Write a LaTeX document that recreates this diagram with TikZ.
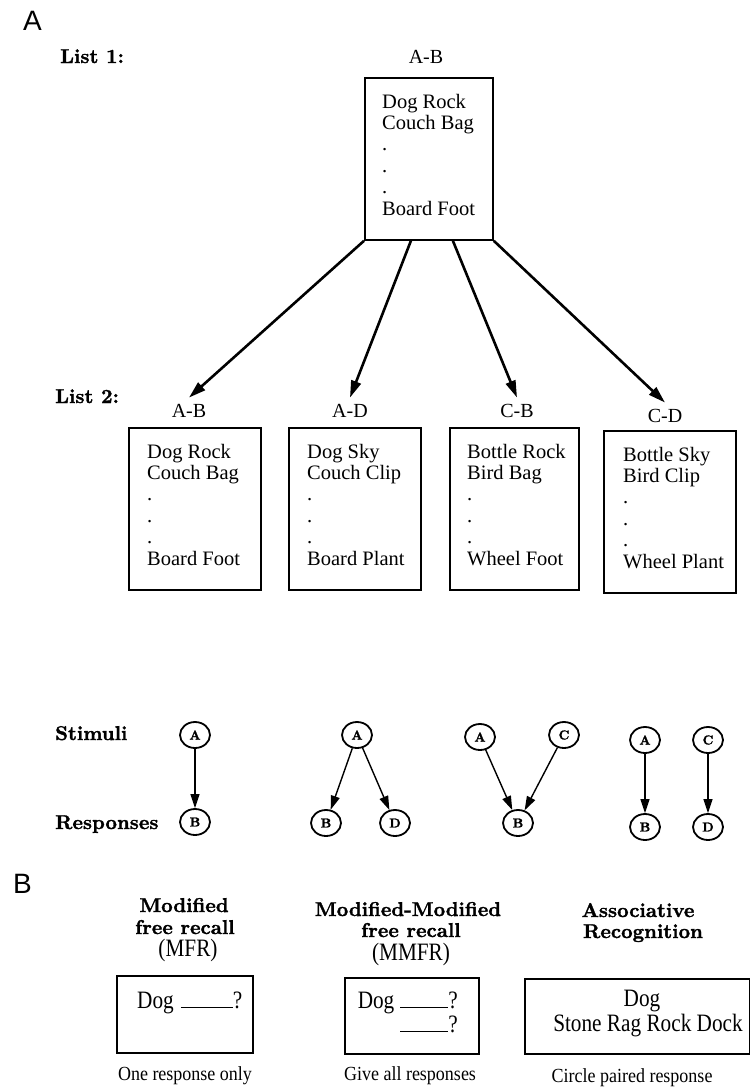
\documentclass[tikz,border=0pt]{standalone}
\usepackage{fontspec}
\usetikzlibrary{arrows.meta,shapes.geometric}
\newfontfamily\timesfont{Liberation Serif}
\newfontfamily\panelfont{Liberation Sans}
\newfontfamily\hbfont{lmroman10-bold.otf}[FakeBold=1.5]
\newcommand\listfnt{\timesfont\fontsize{20.5}{21.4}\selectfont}
% heavy bold extended headings: the 10pt design enlarged
\newcommand\hd[1]{\scalebox{2}{\hbfont\fontsize{10}{12}\selectfont #1}}
\newcommand\letter[1]{\scalebox{1.3}{\hbfont\fontsize{10}{12}\selectfont #1}}
\newcommand\condtxt[1]{\scalebox{0.85}[1]{\timesfont\fontsize{25}{29}\selectfont #1}}
\newcommand\captxt[1]{\scalebox{0.9}[1]{\timesfont\fontsize{20}{24}\selectfont #1}}
\newcommand\wordlist[3]{\begin{tabular}[t]{@{}l@{}}#1\\#2\\.\\.\\.\\#3\end{tabular}}
\newcommand\blankline[1]{\rule{#1}{1.2pt}}

\tikzset{
  panel/.style={font=\panelfont\fontsize{28}{30}\selectfont, inner sep=0pt, anchor=base west},
  head/.style={inner sep=0pt},
  lab/.style={font=\timesfont\fontsize{20}{24}\selectfont, inner sep=0pt, anchor=base},
  listbox/.style={draw, line width=1.8pt, minimum height=162pt, inner sep=0pt, anchor=north west},
  words/.style={anchor=base west, inner sep=0pt, font=\listfnt},
  fan/.style={line width=2.6pt, -{Triangle[length=17pt,width=10pt]}},
  item/.style={ellipse, draw, line width=1.8pt, minimum width=30pt, minimum height=26pt, inner sep=0pt},
  link/.style={line width=1.4pt, -{Triangle[length=14pt,width=9pt]}},
  testbox/.style={draw, line width=1.8pt, inner sep=0pt, anchor=north west},
  txt/.style={inner sep=0pt},
}

\begin{document}
\begin{tikzpicture}[x=1pt,y=-1pt]
\useasboundingbox (0,0) rectangle (750,1088);

% ---------- Panel A: the two study lists ----------
\node[panel] (pA) at (23,30) {A};
\node[head, anchor=base west] (list1) at (60,63) {\hd{List 1:}};
\node[lab] (labtop) at (426,63) {A-B};
\node[listbox, minimum width=128pt] (top) at (364,77) {};
\node[words] (topw) at ([shift={(18,31)}]top.north west) {\wordlist{Dog Rock}{Couch Bag}{Board Foot}};

\node[head, anchor=base west] (list2) at (55,403) {\hd{List 2:}};
\node[lab] (l1) at (189,417) {A-B};
\node[lab] (l2) at (350,417) {A-D};
\node[lab] (l3) at (517,417) {C-B};
\node[lab] (l4) at (665,422) {C-D};

\node[listbox, minimum width=132pt] (b1) at (128,427) {};
\node[listbox, minimum width=132pt] (b2) at (288,427) {};
\node[listbox, minimum width=129pt] (b3) at (449,427) {};
\node[listbox, minimum width=132pt] (b4) at (603,430) {};

\node[words] (w1) at ([shift={(19,31)}]b1.north west) {\wordlist{Dog Rock}{Couch Bag}{Board Foot}};
\node[words] (w2) at ([shift={(19,31)}]b2.north west) {\wordlist{Dog Sky}{Couch Clip}{Board Plant}};
\node[words] (w3) at ([shift={(18,31)}]b3.north west) {\wordlist{Bottle Rock}{Bird Bag}{Wheel Foot}};
\node[words] (w4) at ([shift={(20,31)}]b4.north west) {\wordlist{Bottle Sky}{Bird Clip}{Wheel Plant}};

\draw[fan] (top.south west) -- ([yshift=6pt]l1.north);
\draw[fan] ([xshift=-18pt]top.south) -- ([yshift=6pt]l2.north);
\draw[fan] ([xshift=24pt]top.south) -- ([yshift=6pt]l3.north);
\draw[fan] (top.south east) -- ([yshift=6pt]l4.north);

% ---------- stimulus / response structures ----------
\node[head, anchor=base west] (stim) at (55,740) {\hd{Stimuli}};
\node[head, anchor=base west] (resp) at (55,829) {\hd{Responses}};

\node[item] (g1a) at (195,735) {\letter{A}};
\node[item] (g1b) at (195,822) {\letter{B}};
\draw[link] (g1a) -- (g1b);

\node[item] (g2a) at (357,735) {\letter{A}};
\node[item] (g2b) at (326,823) {\letter{B}};
\node[item] (g2d) at (395,823) {\letter{D}};
\draw[link] (g2a) -- (g2b);
\draw[link] (g2a) -- (g2d);

\node[item] (g3a) at (480,737) {\letter{A}};
\node[item] (g3c) at (564,735) {\letter{C}};
\node[item] (g3b) at (518,823) {\letter{B}};
\draw[link] (g3a) -- (g3b);
\draw[link] (g3c) -- (g3b);

\node[item] (g4a) at (645,740) {\letter{A}};
\node[item] (g4c) at (708,740) {\letter{C}};
\node[item] (g4b) at (645,827) {\letter{B}};
\node[item] (g4d) at (708,827) {\letter{D}};
\draw[link] (g4a) -- (g4b);
\draw[link] (g4c) -- (g4d);

% ---------- Panel B: test formats ----------
\node[panel] (pB) at (13,893) {B};

\node[head, anchor=base] (h1a) at (184,912) {\hd{Modified}};
\node[head, anchor=base] (h1b) at (185,934) {\hd{free recall}};
\node[txt, anchor=base] (h1c) at (188,956) {\condtxt{(MFR)}};

\node[head, anchor=base] (h2a) at (408,916) {\hd{Modified-Modified}};
\node[head, anchor=base] (h2b) at (411,937) {\hd{free recall}};
\node[txt, anchor=base] (h2c) at (411,960) {\condtxt{(MMFR)}};

\node[head, anchor=base] (h3a) at (638,917) {\hd{Associative}};
\node[head, anchor=base] (h3b) at (643,938) {\hd{Recognition}};

\node[testbox, minimum width=136pt, minimum height=77pt] (mfr) at (116,975) {};
\node[txt, anchor=base west] (mfrq) at (137,1008) {\condtxt{Dog}\hspace{7pt}\blankline{52pt}\condtxt{?}};

\node[testbox, minimum width=134pt, minimum height=76pt] (mmfr) at (344,977) {};
\node[txt, anchor=base east] (mmfrq1) at (458,1008) {\condtxt{Dog}\hspace{6pt}\blankline{48pt}\condtxt{?}};
\node[txt, anchor=base east] (mmfrq2) at (458,1032) {\blankline{48pt}\condtxt{?}};

\node[testbox, minimum width=225pt, minimum height=75pt] (ar) at (524,978) {};
\node[txt, anchor=base] (arcue) at (642,1006) {\condtxt{Dog}};
\node[txt, anchor=base] (archoice) at (648,1031) {\condtxt{Stone Rag Rock Dock}};

\node[txt, anchor=base] (c1) at (185,1080) {\captxt{One response only}};
\node[txt, anchor=base] (c2) at (410,1080) {\captxt{Give all responses}};
\node[txt, anchor=base] (c3) at (632,1082) {\captxt{Circle paired response}};
\end{tikzpicture}
\end{document}
